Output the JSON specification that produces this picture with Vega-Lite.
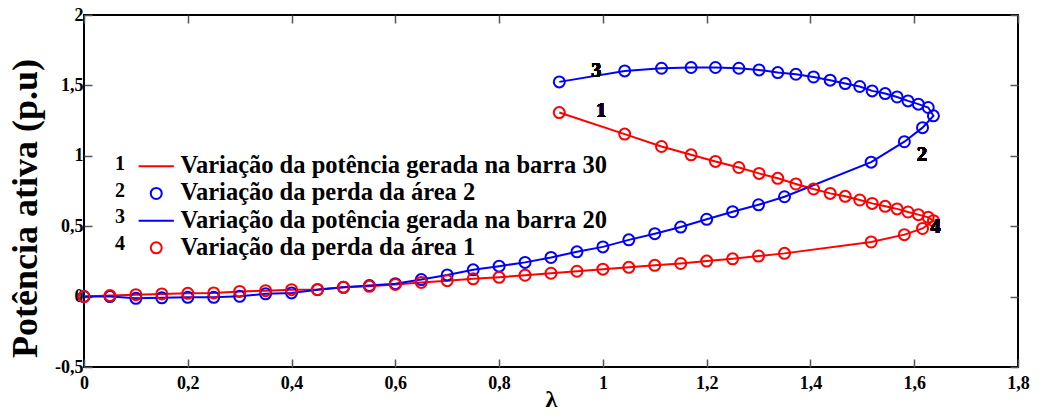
{
  "$schema": "https://vega.github.io/schema/vega-lite/v6.json",
  "width": 934,
  "height": 352,
  "autosize": {"type": "none"},
  "padding": {"left": 84, "top": 15, "right": 22, "bottom": 52},
  "background": "white",
  "config": {
    "font": "Liberation Serif",
    "view": {"stroke": "#000000", "strokeWidth": 2},
    "axis": {
      "domain": false,
      "grid": false,
      "tickSize": -8,
      "tickColor": "#555555",
      "tickWidth": 1.5,
      "labelFont": "Liberation Serif",
      "labelFontSize": 18,
      "labelFontWeight": "bold",
      "labelColor": "#000000",
      "labelFlush": false,
      "titleFont": "Liberation Serif",
      "titleColor": "#000000",
      "titleFontWeight": "bold"
    }
  },
  "datasets": {
    "curvas": [
      {"ordem": 0, "lam": 0.0, "ger30": 0.0, "perda2": 0.0, "ger20": 0.0, "perda1": 0.0},
      {"ordem": 1, "lam": 0.05, "ger30": 0.007, "perda2": 0.0, "ger20": 0.0, "perda1": 0.007},
      {"ordem": 2, "lam": 0.1, "ger30": 0.014, "perda2": -0.012, "ger20": -0.012, "perda1": 0.014},
      {"ordem": 3, "lam": 0.15, "ger30": 0.019, "perda2": -0.009, "ger20": -0.009, "perda1": 0.019},
      {"ordem": 4, "lam": 0.2, "ger30": 0.023, "perda2": -0.005, "ger20": -0.005, "perda1": 0.023},
      {"ordem": 5, "lam": 0.25, "ger30": 0.026, "perda2": -0.005, "ger20": -0.005, "perda1": 0.026},
      {"ordem": 6, "lam": 0.3, "ger30": 0.037, "perda2": 0.002, "ger20": 0.002, "perda1": 0.037},
      {"ordem": 7, "lam": 0.35, "ger30": 0.042, "perda2": 0.02, "ger20": 0.02, "perda1": 0.042},
      {"ordem": 8, "lam": 0.4, "ger30": 0.049, "perda2": 0.026, "ger20": 0.026, "perda1": 0.049},
      {"ordem": 9, "lam": 0.45, "ger30": 0.05, "perda2": 0.049, "ger20": 0.049, "perda1": 0.05},
      {"ordem": 10, "lam": 0.5, "ger30": 0.066, "perda2": 0.066, "ger20": 0.066, "perda1": 0.066},
      {"ordem": 11, "lam": 0.55, "ger30": 0.073, "perda2": 0.078, "ger20": 0.078, "perda1": 0.073},
      {"ordem": 12, "lam": 0.6, "ger30": 0.086, "perda2": 0.092, "ger20": 0.092, "perda1": 0.086},
      {"ordem": 13, "lam": 0.65, "ger30": 0.101, "perda2": 0.121, "ger20": 0.121, "perda1": 0.101},
      {"ordem": 14, "lam": 0.7, "ger30": 0.113, "perda2": 0.154, "ger20": 0.154, "perda1": 0.113},
      {"ordem": 15, "lam": 0.75, "ger30": 0.126, "perda2": 0.19, "ger20": 0.19, "perda1": 0.126},
      {"ordem": 16, "lam": 0.8, "ger30": 0.137, "perda2": 0.216, "ger20": 0.216, "perda1": 0.137},
      {"ordem": 17, "lam": 0.85, "ger30": 0.152, "perda2": 0.243, "ger20": 0.243, "perda1": 0.152},
      {"ordem": 18, "lam": 0.9, "ger30": 0.166, "perda2": 0.278, "ger20": 0.278, "perda1": 0.166},
      {"ordem": 19, "lam": 0.95, "ger30": 0.18, "perda2": 0.318, "ger20": 0.318, "perda1": 0.18},
      {"ordem": 20, "lam": 1.0, "ger30": 0.195, "perda2": 0.353, "ger20": 0.353, "perda1": 0.195},
      {"ordem": 21, "lam": 1.05, "ger30": 0.208, "perda2": 0.403, "ger20": 0.403, "perda1": 0.208},
      {"ordem": 22, "lam": 1.1, "ger30": 0.222, "perda2": 0.447, "ger20": 0.447, "perda1": 0.222},
      {"ordem": 23, "lam": 1.15, "ger30": 0.235, "perda2": 0.494, "ger20": 0.494, "perda1": 0.235},
      {"ordem": 24, "lam": 1.2, "ger30": 0.252, "perda2": 0.549, "ger20": 0.549, "perda1": 0.252},
      {"ordem": 25, "lam": 1.25, "ger30": 0.268, "perda2": 0.603, "ger20": 0.603, "perda1": 0.268},
      {"ordem": 26, "lam": 1.3, "ger30": 0.288, "perda2": 0.652, "ger20": 0.652, "perda1": 0.288},
      {"ordem": 27, "lam": 1.35, "ger30": 0.307, "perda2": 0.709, "ger20": 0.709, "perda1": 0.307},
      {"ordem": 28, "lam": 1.517, "ger30": 0.388, "perda2": 0.955, "ger20": 0.955, "perda1": 0.388},
      {"ordem": 29, "lam": 1.581, "ger30": 0.44, "perda2": 1.1, "ger20": 1.1, "perda1": 0.44},
      {"ordem": 30, "lam": 1.616, "ger30": 0.484, "perda2": 1.2, "ger20": 1.2, "perda1": 0.484},
      {"ordem": 31, "lam": 1.637, "ger30": 0.539, "perda2": 1.284, "ger20": 1.284, "perda1": 0.539},
      {"ordem": 32, "lam": 1.627, "ger30": 0.563, "perda2": 1.343, "ger20": 1.343, "perda1": 0.563},
      {"ordem": 33, "lam": 1.608, "ger30": 0.582, "perda2": 1.367, "ger20": 1.367, "perda1": 0.582},
      {"ordem": 34, "lam": 1.588, "ger30": 0.601, "perda2": 1.39, "ger20": 1.39, "perda1": 0.601},
      {"ordem": 35, "lam": 1.567, "ger30": 0.623, "perda2": 1.418, "ger20": 1.418, "perda1": 0.623},
      {"ordem": 36, "lam": 1.544, "ger30": 0.641, "perda2": 1.442, "ger20": 1.442, "perda1": 0.641},
      {"ordem": 37, "lam": 1.519, "ger30": 0.662, "perda2": 1.461, "ger20": 1.461, "perda1": 0.662},
      {"ordem": 38, "lam": 1.495, "ger30": 0.686, "perda2": 1.492, "ger20": 1.492, "perda1": 0.686},
      {"ordem": 39, "lam": 1.467, "ger30": 0.712, "perda2": 1.513, "ger20": 1.513, "perda1": 0.712},
      {"ordem": 40, "lam": 1.438, "ger30": 0.733, "perda2": 1.537, "ger20": 1.537, "perda1": 0.733},
      {"ordem": 41, "lam": 1.406, "ger30": 0.764, "perda2": 1.56, "ger20": 1.56, "perda1": 0.764},
      {"ordem": 42, "lam": 1.372, "ger30": 0.8, "perda2": 1.579, "ger20": 1.579, "perda1": 0.8},
      {"ordem": 43, "lam": 1.337, "ger30": 0.84, "perda2": 1.591, "ger20": 1.591, "perda1": 0.84},
      {"ordem": 44, "lam": 1.301, "ger30": 0.875, "perda2": 1.61, "ger20": 1.61, "perda1": 0.875},
      {"ordem": 45, "lam": 1.262, "ger30": 0.917, "perda2": 1.622, "ger20": 1.622, "perda1": 0.917},
      {"ordem": 46, "lam": 1.217, "ger30": 0.96, "perda2": 1.627, "ger20": 1.627, "perda1": 0.96},
      {"ordem": 47, "lam": 1.17, "ger30": 1.007, "perda2": 1.627, "ger20": 1.627, "perda1": 1.007},
      {"ordem": 48, "lam": 1.113, "ger30": 1.066, "perda2": 1.622, "ger20": 1.622, "perda1": 1.066},
      {"ordem": 49, "lam": 1.042, "ger30": 1.154, "perda2": 1.603, "ger20": 1.603, "perda1": 1.154},
      {"ordem": 50, "lam": 0.916, "ger30": 1.307, "perda2": 1.525, "ger20": 1.525, "perda1": 1.307}
    ]
  },
  "data": {"name": "curvas"},
  "transform": [
    {"fold": ["ger30", "perda2", "ger20", "perda1"], "as": ["serie", "valor"]}
  ],
  "resolve": {"axis": {"x": "independent", "y": "independent"}},
  "layer": [
    {
      "transform": [{"filter": "datum.serie == 'ger30' || datum.serie == 'ger20'"}],
      "mark": {"type": "line", "strokeWidth": 2},
      "encoding": {
        "x": {
          "field": "lam", "type": "quantitative",
          "scale": {"domain": [0, 1.8], "nice": false, "zero": false},
          "axis": {
            "orient": "bottom",
            "values": [0, 0.2, 0.4, 0.6, 0.8, 1, 1.2, 1.4, 1.6, 1.8],
            "labelExpr": "replace(toString(datum.value), '.', ',')",
            "labelPadding": 15,
            "title": "λ",
            "titleFontSize": 24,
            "titlePadding": -5
          }
        },
        "y": {
          "field": "valor", "type": "quantitative",
          "scale": {"domain": [-0.5, 2], "nice": false, "zero": false},
          "axis": {
            "orient": "left",
            "values": [-0.5, 0, 0.5, 1, 1.5, 2],
            "labelExpr": "replace(toString(datum.value), '.', ',')",
            "labelPadding": 9,
            "title": "Potência ativa (p.u)",
            "titleFontSize": 36,
            "titleX": -59,
            "titleY": 193,
            "titleBaseline": "middle"
          }
        },
        "order": {"field": "ordem", "type": "quantitative"},
        "color": {
          "field": "serie", "type": "nominal",
          "scale": {"domain": ["ger30", "perda2", "ger20", "perda1"], "range": ["#ff0000", "#0000ff", "#0000ff", "#ff0000"]}
        }
      }
    },
    {
      "transform": [{"filter": "datum.serie == 'perda1' || datum.serie == 'perda2'"}],
      "mark": {"type": "point", "filled": false, "strokeWidth": 2, "size": 121, "opacity": 1},
      "encoding": {
        "x": {
          "field": "lam", "type": "quantitative",
          "axis": {"orient": "top", "values": [0, 0.2, 0.4, 0.6, 0.8, 1, 1.2, 1.4, 1.6, 1.8], "labels": false, "title": null}
        },
        "y": {
          "field": "valor", "type": "quantitative",
          "axis": {"orient": "right", "values": [-0.5, 0, 0.5, 1, 1.5, 2], "labels": false, "title": null}
        },
        "color": {
          "field": "serie", "type": "nominal",
          "legend": {
            "orient": "none",
            "legendX": 31,
            "legendY": 139,
            "padding": 0,
            "title": ["1", "2", "3", "4"],
            "titleOrient": "left",
            "titleAnchor": "start",
            "titleBaseline": "top",
            "titleFont": "Liberation Serif",
            "titleFontSize": 20,
            "titleFontWeight": "bold",
            "titleColor": "#000000",
            "titleLineHeight": 26.7,
            "titlePadding": 19,
            "labelFont": "Liberation Serif",
            "labelFontSize": 24.5,
            "labelFontWeight": "bold",
            "labelColor": "#000000",
            "labelOffset": 12,
            "labelLimit": 0,
            "rowPadding": 2.2,
            "symbolSize": 121,
            "symbolStrokeWidth": 2,
            "labelExpr": "datum.label == 'ger30' ? 'Variação da potência gerada na barra 30' : datum.label == 'perda2' ? 'Variação da perda da área 2' : datum.label == 'ger20' ? 'Variação da potência gerada na barra 20' : 'Variação da perda da área 1'"
          }
        },
        "shape": {
          "field": "serie", "type": "nominal",
          "scale": {"domain": ["ger30", "perda2", "ger20", "perda1"], "range": ["M-3.2,0H3.2", "circle", "M-3.2,0H3.2", "circle"]}
        }
      }
    },
    {
      "mark": {"type": "text", "font": "Liberation Serif", "fontSize": 20, "fontWeight": "bold", "color": "#000000"},
      "encoding": {"x": {"datum": 0.987, "type": "quantitative", "axis": null}, "y": {"datum": 1.603, "type": "quantitative", "axis": null}, "text": {"value": "3"}}
    },
    {
      "mark": {"type": "text", "font": "Liberation Serif", "fontSize": 20, "fontWeight": "bold", "color": "#000000"},
      "encoding": {"x": {"datum": 0.997, "type": "quantitative", "axis": null}, "y": {"datum": 1.319, "type": "quantitative", "axis": null}, "text": {"value": "1"}}
    },
    {
      "mark": {"type": "text", "font": "Liberation Serif", "fontSize": 20, "fontWeight": "bold", "color": "#000000"},
      "encoding": {"x": {"datum": 1.615, "type": "quantitative", "axis": null}, "y": {"datum": 1.007, "type": "quantitative", "axis": null}, "text": {"value": "2"}}
    },
    {
      "mark": {"type": "text", "font": "Liberation Serif", "fontSize": 20, "fontWeight": "bold", "color": "#000000"},
      "encoding": {"x": {"datum": 1.641, "type": "quantitative", "axis": null}, "y": {"datum": 0.496, "type": "quantitative", "axis": null}, "text": {"value": "4"}}
    }
  ]
}
